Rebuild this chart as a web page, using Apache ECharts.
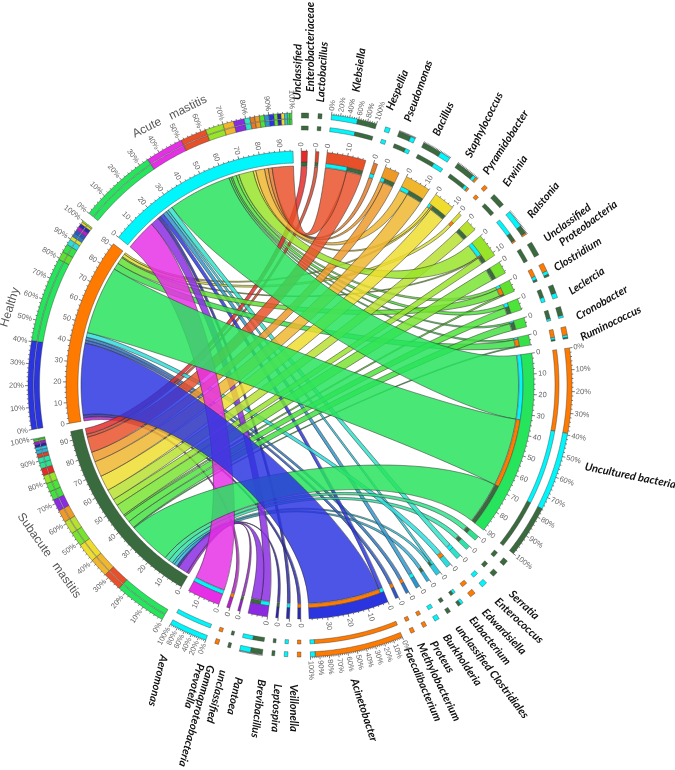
<!DOCTYPE html>
<html>
<head>
<meta charset="utf-8">
<style>html,body{margin:0;padding:0;background:#fff}#chart{width:675px;height:770px}</style>
<script src="https://cdn.jsdelivr.net/npm/echarts@6/dist/echarts.min.js"></script>
</head>
<body>
<div id="chart"></div>
<script>
// clockwise from the top of the circle
const genusNames = ['Unclassified Enterobacteriaceae', 'Lactobacillus', 'Klebsiella', 'Hespellia', 'Pseudomonas', 'Bacillus', 'Staphylococcus', 'Pyramidobacter', 'Erwinia', 'Ralstonia', 'Unclassified Proteobacteria', 'Clostridium', 'Leclercia', 'Cronobacter', 'Ruminococcus', 'Uncultured bacteria', 'Serratia', 'Enterococcus', 'Edwardsiella', 'Eubacterium', 'unclassified Clostridiales', 'Burkholderia', 'Proteus', 'Methylobacterium', 'Faecalibacterium', 'Acinetobacter', 'Veillonella', 'Leptospira', 'Brevibacillus', 'Pantoea', 'unclassified Gammaproteobacteria', 'Prevotella', 'Aeromonas'];
const acuteValues = [0, 0, 11, 2, 2, 4.5, 1.4, 0, 0, 7.5, 0, 1.5, 2, 0.9, 1, 33, 0, 0, 2.4, 0, 1.2, 0, 2, 0, 0, 2, 0, 1.5, 0, 4.5, 0, 0, 16];
const healthyValues = [0, 0, 0, 0, 0, 0, 0.9, 1.6, 0, 0.6, 0, 3.5, 0, 0, 3.5, 35.5, 0, 0, 0, 2.4, 0, 0, 0, 1.6, 1.6, 37, 1.5, 0, 0, 0, 0, 1.6, 0];
const subacuteValues = [3, 1.6, 8, 0, 5.2, 8, 8, 0, 5.6, 3.5, 6, 0.8, 3.6, 3.7, 0.5, 22, 2.4, 2.2, 0, 0, 1.2, 1.6, 0, 0, 0, 0, 0, 0, 1.2, 5, 1.2, 0, 0];
const genusColors = ['#e52a2a', '#d8452a', '#e8502a', '#e27a2a', '#ee9a28', '#efb62e', '#eedd2e', '#d9e030', '#b8e030', '#98e428', '#78e430', '#60e030', '#4ce438', '#44e040', '#38e048', '#26e45c', '#2ce28c', '#2ce2a8', '#2ce2c8', '#2cdcdc', '#2cc8dc', '#2cb0d8', '#2c96cc', '#2c78c4', '#2c58c0', '#2a35e0', '#2a2ab0', '#2a2aa8', '#3020a8', '#8a2be2', '#9b20c8', '#b420c8', '#e62ee6'];
const groupColors = ['#00f6fa', '#ff7a00', '#3a6b3e'];

// hand placed captions: text, x, y, rotation
const genusLabels = [
  ['Unclassified', 297.5, 72, -89], ['Enterobacteriaceae', 310.7, 47, -90], ['Lactobacillus', 322.3, 72, -86.4],
  ['Klebsiella', 359, 70, -82], ['Hespellia', 397.3, 90, -68], ['Pseudomonas', 418.3, 91, -70],
  ['Bacillus', 443.3, 119, -65], ['Staphylococcus', 484, 125, -63.4], ['Pyramidobacter', 505.7, 142.3, -57],
  ['Erwinia', 515.3, 171, -55.5], ['Ralstonia', 543.3, 200, -50], ['Unclassified', 567.3, 222.7, -36.6],
  ['Proteobacteria', 588.3, 223.3, -36.3], ['Clostridium', 577.7, 254.3, -32], ['Leclercia', 586.7, 281, -33.3],
  ['Cronobacter', 601.7, 302.7, -30], ['Ruminococcus', 610.7, 323.3, -26], ['Uncultured bacteria', 630.3, 475.7, 11.4],
  ['Serratia', 524, 605, 43], ['Enterococcus', 519, 620.7, 42.6], ['Edwardsiella', 504, 631.7, 46.2],
  ['Eubacterium', 490, 640.7, 50.8], ['unclassified Clostridiales', 492, 671.7, 53], ['Burkholderia', 462.3, 660, 55.8],
  ['Proteus', 442, 657, 58], ['Methylobacterium', 438.7, 682, 64], ['Faecalibacterium', 422.7, 684.3, 66.8],
  ['Acinetobacter', 364, 710, 72], ['Veillonella', 293.3, 708, 90], ['Leptospira', 276.3, 708, 93.5],
  ['Brevibacillus', 258.3, 708.7, 97], ['Pantoea', 234.7, 696, 103], ['unclassified', 216.7, 696.7, 104.5],
  ['Gammaproteobacteria', 196.5, 716, 106], ['Prevotella', 194.3, 686, 106], ['Aeromonas', 158, 680.7, 103.3]
];
const groupLabels = [
  ['Acute   mastitis', 169.7, 116.7, -26.3], ['Healthy', 10, 307.3, -72.5], ['Subacute   mastitis', 49, 555.7, 54.7]
];

const sum = arr => arr.reduce((a, b) => a + b, 0);
const groupValues = [acuteValues, healthyValues, subacuteValues];
const degPerUnit = 0.51;
const startAngle = 0.3;
const genusTotals = genusNames.map((n, i) => acuteValues[i] + healthyValues[i] + subacuteValues[i]);
// groups run Subacute, Healthy, Acute after the genera
const groupOrder = [2, 1, 0];
const groupTotals = groupOrder.map(g => sum(groupValues[g]));
const segCount = genusNames.length + 3;
const gapDeg = (360 - (sum(genusTotals) + sum(groupTotals)) * degPerUnit) / segCount;

const R = {
  band: [223, 234], groupBand: [222, 234], stripe: [219, 223], ribbonGenus: 218.5, ribbonGroup: 219,
  ringIn: [255, 259], ringOut: [267, 272], groupIn: [260.5, 266], groupOut: [266.6, 272], ctrl: 130
};

let segments = [];
let cursor = startAngle;
genusNames.forEach((name, i) => {
  segments.push({ kind: 'genus', index: i, total: genusTotals[i], start: cursor, color: genusColors[i] });
  cursor += genusTotals[i] * degPerUnit + gapDeg;
});
groupOrder.forEach((g, i) => {
  segments.push({ kind: 'group', index: g, total: groupTotals[i], start: cursor, color: groupColors[g] });
  cursor += groupTotals[i] * degPerUnit + gapDeg;
});

// ribbons and the thin contribution stripe on each genus
let ribbons = [];
let stripes = [];
const groupStartOf = g => segments.find(s => s.kind === 'group' && s.index === g).start;
groupValues.forEach((vals, g) => {
  let c = groupStartOf(g);
  for (let i = genusNames.length - 1; i >= 0; i--) {
    if (vals[i] > 0) {
      ribbons.push({ g, i, value: vals[i], a0: c, a1: c + vals[i] * degPerUnit });
      c += vals[i] * degPerUnit;
    }
  }
});
segments.filter(s => s.kind === 'genus').forEach(s => {
  let c = s.start;
  [0, 1, 2].forEach(g => {
    const v = groupValues[g][s.index];
    if (v > 0) {
      const r = ribbons.find(x => x.g === g && x.i === s.index);
      r.b0 = c;
      r.b1 = c + v * degPerUnit;
      stripes.push({ a0: r.b0, a1: r.b1, color: groupColors[g] });
      c = r.b1;
    }
  });
});
ribbons.sort((a, b) => a.value - b.value);

const fmt = p => p[0].toFixed(2) + ' ' + p[1].toFixed(2);
function arcPoints(api, r, a0, a1) {
  const n = Math.max(1, Math.ceil(Math.abs(a1 - a0) / 0.5));
  let out = '';
  for (let k = 1; k <= n; k++) {
    out += 'L' + fmt(api.coord([r, a0 + (a1 - a0) * k / n]));
  }
  return out;
}
function sectorPath(api, r0, r1, a0, a1) {
  return 'M' + fmt(api.coord([r1, a0])) + arcPoints(api, r1, a0, a1) +
    'L' + fmt(api.coord([r0, a1])) + arcPoints(api, r0, a1, a0) + 'Z';
}
function sector(api, r, a0, a1, fill, stroke, lw) {
  return {
    type: 'path',
    shape: { pathData: sectorPath(api, r[0], r[1], a0, a1) },
    style: { fill, stroke: stroke || '#333', lineWidth: lw == null ? 0.4 : lw }
  };
}
function radialText(api, text, r, a, font, color) {
  const p = api.coord([r, a]);
  const norm = ((a % 360) + 360) % 360;
  const right = norm <= 180;
  const theta = right ? norm - 90 : norm + 90;
  return {
    type: 'text',
    x: p[0],
    y: p[1],
    rotation: -theta * Math.PI / 180,
    style: { text, font, fill: color, align: right ? 'left' : 'right', verticalAlign: 'middle' }
  };
}

function renderRibbon(params, api) {
  const d = ribbons[params.dataIndex];
  const color = genusColors[d.i];
  const path = 'M' + fmt(api.coord([R.ribbonGroup, d.a0])) + arcPoints(api, R.ribbonGroup, d.a0, d.a1) +
    'C' + fmt(api.coord([R.ctrl, d.a1])) + ' ' + fmt(api.coord([R.ctrl, d.b0])) + ' ' + fmt(api.coord([R.ribbonGenus, d.b0])) +
    arcPoints(api, R.ribbonGenus, d.b0, d.b1) +
    'C' + fmt(api.coord([R.ctrl, d.b1])) + ' ' + fmt(api.coord([R.ctrl, d.a0])) + ' ' + fmt(api.coord([R.ribbonGroup, d.a0])) + 'Z';
  return {
    type: 'path',
    shape: { pathData: path },
    style: { fill: color, stroke: '#2a2a2a', lineWidth: 0.6, opacity: 0.84 }
  };
}

function renderBand(params, api) {
  const s = segments[params.dataIndex];
  const end = s.start + s.total * degPerUnit;
  const isGroup = s.kind === 'group';
  const children = [sector(api, isGroup ? R.groupBand : R.band, s.start, end, s.color)];
  let ticks = '';
  for (let u = 0; u <= s.total + 0.001; u += 2.5) {
    const a = s.start + u * degPerUnit;
    const major = u % 10 === 0;
    ticks += 'M' + fmt(api.coord([234, a])) + 'L' + fmt(api.coord([major ? 237 : 235.5, a]));
    if (major) {
      children.push(radialText(api, String(u), 238.5, a, '7.5px "Liberation Sans"', '#666'));
    }
  }
  children.push({ type: 'path', shape: { pathData: ticks }, style: { fill: 'none', stroke: '#222', lineWidth: 0.6 } });
  return { type: 'group', children };
}

function renderStripe(params, api) {
  const d = stripes[params.dataIndex];
  return sector(api, R.stripe, d.a0, d.a1, d.color);
}

function renderRing(params, api) {
  const s = segments[params.dataIndex];
  const isGroup = s.kind === 'group';
  const end = s.start + s.total * degPerUnit;
  const parts = (isGroup
    ? genusNames.map((n, i) => ({ v: groupValues[s.index][i], color: genusColors[i] }))
    : [0, 1, 2].map(g => ({ v: groupValues[g][s.index], color: groupColors[g] })))
    .filter(p => p.v > 0)
    .sort((a, b) => b.v - a.v);
  const children = [];
  let c = s.start;
  parts.forEach(p => {
    const next = c + p.v * degPerUnit;
    children.push(sector(api, isGroup ? R.groupIn : R.ringIn, c, next, p.color));
    children.push(sector(api, isGroup ? R.groupOut : R.ringOut, c, next, p.color));
    c = next;
  });
  // percent scale only on the wider segments
  if (s.total >= 7) {
    const step = s.total > 30 ? 2 : 5;
    const labelEvery = s.total > 30 ? 10 : (s.total > 15 ? 20 : 0);
    let ticks = '';
    for (let pct = 0; pct <= 100; pct += step) {
      const a = s.start + (end - s.start) * pct / 100;
      const major = labelEvery && pct % labelEvery === 0;
      ticks += 'M' + fmt(api.coord([272, a])) + 'L' + fmt(api.coord([major ? 275 : 273.5, a]));
      if (major) {
        children.push(radialText(api, pct + '%', 276, a, '7.5px "Liberation Sans"', '#666'));
      }
    }
    children.push({ type: 'path', shape: { pathData: ticks }, style: { fill: 'none', stroke: '#222', lineWidth: 0.6 } });
  }
  return { type: 'group', children };
}

const chart = echarts.init(document.getElementById('chart'));
chart.setOption({
  animation: false,
  backgroundColor: '#fff',
  polar: { center: [300, 385], radius: [0, 300] },
  radiusAxis: { type: 'value', min: 0, max: 300, show: false },
  angleAxis: { type: 'value', min: 0, max: 360, startAngle: 90, clockwise: true, show: false },
  series: [
    { type: 'custom', coordinateSystem: 'polar', silent: true, data: ribbons.map((r, i) => [r.value, i]), renderItem: renderRibbon, z: 2 },
    { type: 'custom', coordinateSystem: 'polar', silent: true, data: stripes.map((r, i) => [1, i]), renderItem: renderStripe, z: 3 },
    { type: 'custom', coordinateSystem: 'polar', silent: true, data: segments.map((s, i) => [s.total, i]), renderItem: renderBand, z: 4 },
    { type: 'custom', coordinateSystem: 'polar', silent: true, data: segments.map((s, i) => [s.total, i]), renderItem: renderRing, z: 4 }
  ],
  graphic: genusLabels.map(l => ({
    type: 'text', x: l[1], y: l[2], rotation: -l[3] * Math.PI / 180,
    style: { text: l[0], font: 'italic bold 11px Lato', fill: '#111', align: 'center', verticalAlign: 'middle' }
  })).concat(groupLabels.map(l => ({
    type: 'text', x: l[1], y: l[2], rotation: -l[3] * Math.PI / 180,
    style: { text: l[0], font: '12px "Liberation Sans"', fill: '#555', align: 'center', verticalAlign: 'middle' }
  })))
});
</script>
</body>
</html>
